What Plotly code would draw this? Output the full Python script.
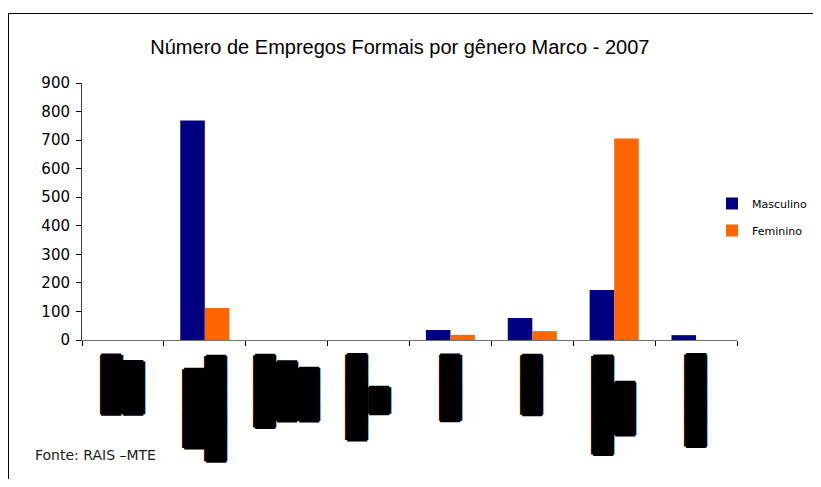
import plotly.graph_objects as go

# Category labels (rendered in the reference as solid black rotated text blocks)
label_lines = [
    ["▐████", "████"],
    ["██████", "████████"],
    ["▐█████", "▐████", "████"],
    ["▐██████", "██"],
    ["█████"],
    ["▐████"],
    ["▐███████", "████"],
    ["███████"],
]
categories = ["<br>".join(l) for l in label_lines]

masculino = [0, 769, 0, 0, 35, 77, 175, 17]
feminino = [0, 112, 0, 0, 18, 31, 706, 0]

y_ticks = [0, 100, 200, 300, 400, 500, 600, 700, 800, 900]

title_text = "Número de Empregos Formais por gênero Marco - 2007"
source_text = "Fonte: RAIS –MTE"

fig = go.Figure()
fig.add_trace(go.Bar(x=categories, y=masculino, name="Masculino",
                     marker=dict(color="#000080", line=dict(width=0)),
                     legendgroup="m"))
fig.add_trace(go.Bar(x=categories, y=feminino, name="Feminino",
                     marker=dict(color="#FF6600", line=dict(width=0)),
                     legendgroup="f"))

block_shadow = "1.5px 0 0 #000, -1.5px 0 0 #000, 0 1.5px 0 #000, 0 -1.5px 0 #000"
annotations = []
for c in categories:
    annotations.append(dict(
        x=c, xref="x", y=-0.049, yref="paper", yanchor="top", xanchor="center",
        text=c, textangle=-90, align="center", showarrow=False,
        font=dict(family="DejaVu Sans", size=17, color="black", shadow=block_shadow),
    ))
annotations.append(dict(
    x=-0.0749, xref="paper", y=-0.4475, yref="paper", xanchor="left", yanchor="middle",
    text=source_text, showarrow=False,
    font=dict(family="DejaVu Sans", size=14, color="#1a1a1a"),
))

frame_line = dict(color="black", width=1)
fig.update_layout(
    width=813, height=471,
    margin=dict(l=74, r=84, t=75, b=139, autoexpand=False),
    paper_bgcolor="white", plot_bgcolor="white",
    title=dict(text=title_text, x=0.482, xanchor="center", y=1 - 39 / 471, yanchor="middle",
               font=dict(family="Liberation Sans", size=20, color="black")),
    barmode="group", bargap=0.4, bargroupgap=0,
    showlegend=True,
    legend=dict(x=0.9618, xanchor="left", y=0.4786, yanchor="middle",
                font=dict(family="DejaVu Sans", size=11, color="black"),
                tracegroupgap=8, bgcolor="rgba(0,0,0,0)"),
    xaxis=dict(type="category", showticklabels=False, ticks="outside", tickson="boundaries",
               ticklen=5, tickcolor="black", showline=True, linecolor="#707070", linewidth=1,
               showgrid=False, zeroline=False, fixedrange=True),
    yaxis=dict(range=[0, 900], tickvals=y_ticks, ticks="outside", ticklen=5, tickcolor="black",
               ticklabelstandoff=3,
               showline=True, linecolor="#404040", linewidth=1, showgrid=False, zeroline=False,
               tickfont=dict(family="DejaVu Sans", size=15, color="black")),
    annotations=annotations,
    shapes=[
        dict(type="line", xref="paper", yref="paper", x0=-0.1122, x1=-0.1122, y0=-1.0, y1=1.2704,
             line=frame_line),
        dict(type="line", xref="paper", yref="paper", x0=-0.1122, x1=1.3, y0=1.2704, y1=1.2704,
             line=frame_line),
    ],
)

fig.write_html("out.html")
